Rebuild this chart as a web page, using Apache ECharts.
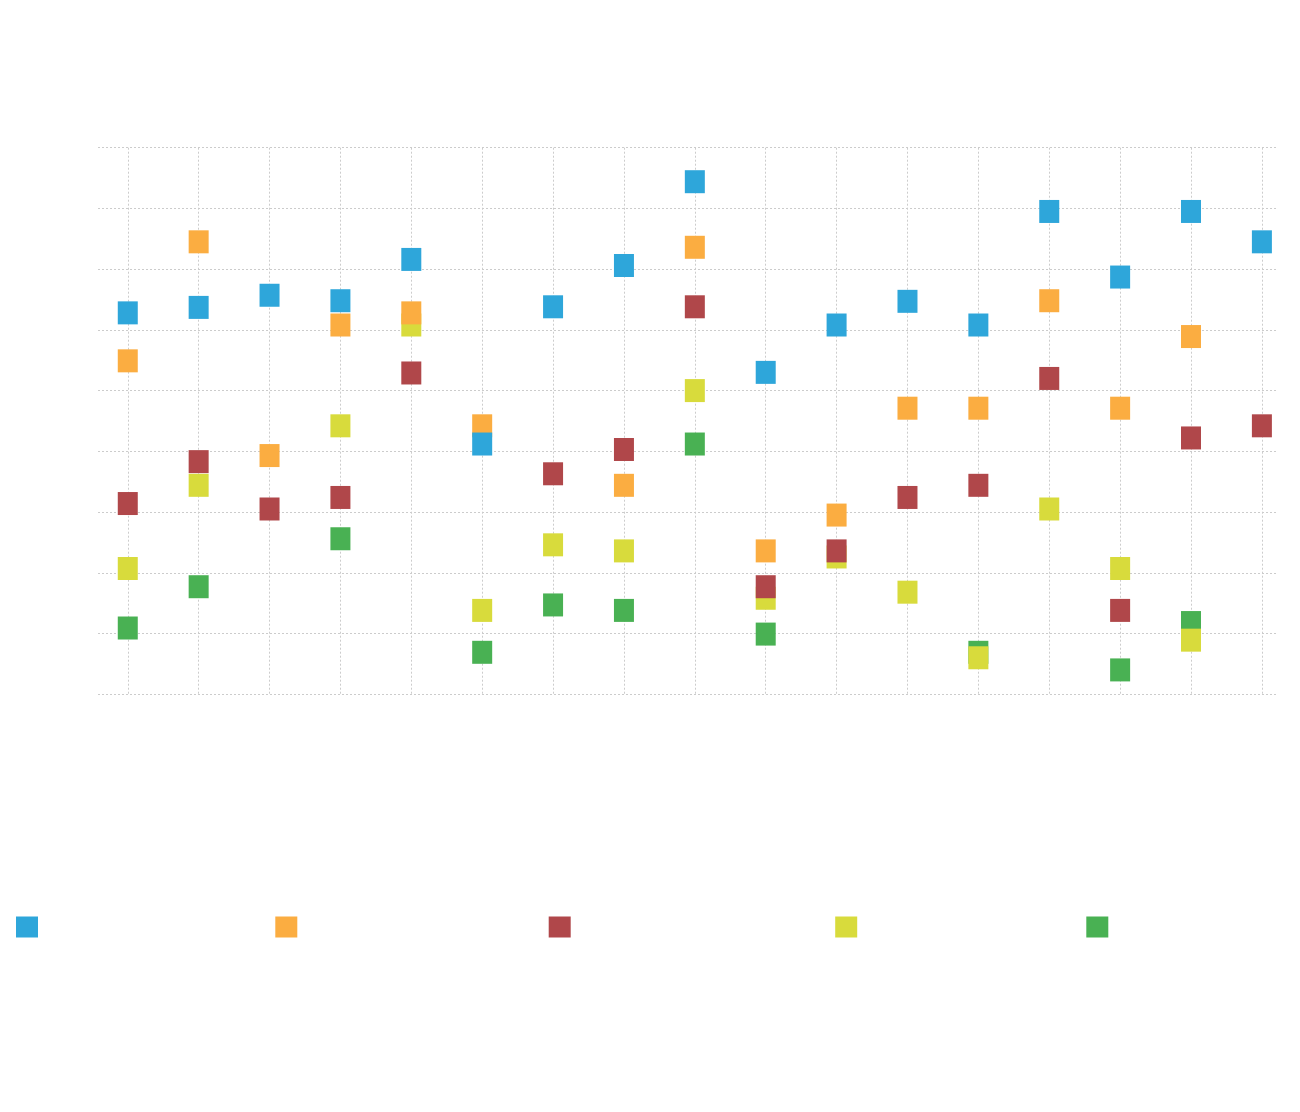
<!DOCTYPE html>
<html>
<head>
<meta charset="utf-8">
<script src="https://cdn.jsdelivr.net/npm/echarts@6/dist/echarts.min.js"></script>
<style>
  html, body { margin: 0; padding: 0; background: #ffffff; }
  #chart { width: 1300px; height: 1112px; }
</style>
</head>
<body>
<div id="chart"></div>
<script>
// Category positions (x index of each column)
const categories = [0, 1, 2, 3, 4, 5, 6, 7, 8, 9, 10, 11, 12, 13, 14, 15, 16];

// Series values (null = no point drawn)
const blueValues   = [62.8, 63.7, 65.7, 64.8, 71.6, 41.2, 63.8, 70.6, 84.4, 53.0, 60.8, 64.7, 60.8, 79.5, 68.7, 79.5, 74.5];
const orangeValues = [54.9, 74.5, 39.3, 60.8, 62.8, 44.2, null, 34.4, 73.6, 23.6, 29.5, 47.1, 47.1, 64.8, 47.1, 58.9, null];
const redValues    = [31.4, 38.3, 30.5, 32.4, 52.9, null, 36.3, 40.3, 63.8, 17.7, 23.6, 32.4, 34.4, 52.0, 13.8, 42.2, 44.2];
const yellowValues = [20.7, 34.4, null, 44.2, 60.8, 13.8, 24.6, 23.6, 50.0, 15.8, 22.6, 16.8, 6.0, 30.5, 20.7, 8.9, null];
const greenValues  = [10.9, 17.7, null, 25.6, null, 6.9, 14.7, 13.8, 41.2, 9.9, null, null, 6.9, null, 4.0, 11.8, null];

const seriesNames = ['s1', 's2', 's3', 's4', 's5'];
const seriesValues = [blueValues, orangeValues, redValues, yellowValues, greenValues];
const colors = ['#2ea6da', '#fbad41', '#b0474a', '#d8db3c', '#49b153'];
const legendLefts = [16, 275.3, 548.7, 835.2, 1086.3];

const gridLine = { color: '#cccccc', width: 1, type: [2, 2] };

const series = seriesValues.map(function (vals, si) {
  return {
    name: seriesNames[si],
    type: 'scatter',
    symbol: 'rect',
    symbolSize: [20, 23],
    z: 10 - si,
    itemStyle: { color: colors[si], opacity: 1 },
    emphasis: { disabled: true },
    data: categories.map(function (c, i) { return [c, vals[i]]; }).filter(function (p) { return p[1] !== null; })
  };
});

const legends = seriesNames.map(function (n, si) {
  return {
    data: [n],
    left: legendLefts[si],
    top: 916.5,
    padding: 0,
    itemWidth: 22,
    itemHeight: 21,
    icon: 'rect',
    selectedMode: false,
    formatter: function () { return ''; }
  };
});

const chart = echarts.init(document.getElementById('chart'), null, { renderer: 'canvas' });
chart.setOption({
  animation: false,
  color: colors,
  grid: { left: 98, top: 147.7, width: 1179.7, height: 546.5, containLabel: false },
  legend: legends,
  xAxis: {
    type: 'value',
    min: -0.42,
    max: 16.223,
    splitNumber: 16,
    axisLine: { show: false },
    axisTick: { show: false },
    axisLabel: { show: false },
    splitLine: { show: true, showMinLine: false, showMaxLine: false, lineStyle: gridLine }
  },
  yAxis: {
    type: 'value',
    min: 0,
    max: 90,
    interval: 10,
    axisLine: { show: false },
    axisTick: { show: false },
    axisLabel: { show: false },
    splitLine: { show: true, lineStyle: gridLine }
  },
  series: series
});
</script>
</body>
</html>
